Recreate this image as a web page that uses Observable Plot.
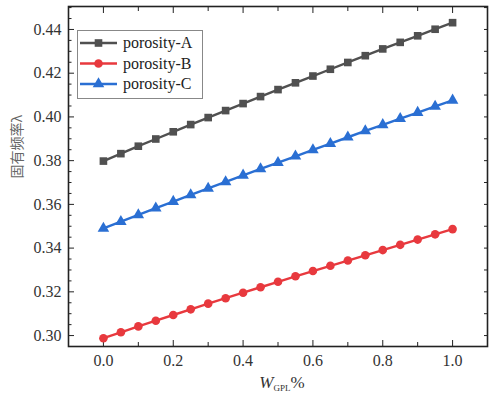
<!DOCTYPE html>
<html><head><meta charset="utf-8">
<script src="https://cdn.jsdelivr.net/npm/d3@7"></script>
<script src="https://cdn.jsdelivr.net/npm/@observablehq/plot@0.6"></script>
<style>body{margin:0;background:#fff}</style>
</head><body><div id="chart"></div>
<script>
const wgpl = [0,0.05,0.1,0.15,0.2,0.25,0.3,0.35,0.4,0.45,0.5,0.55,0.6,0.65,0.7,0.75,0.8,0.85,0.9,0.95,1.0];
const porosityA = [0.3798,0.3832,0.3866,0.3899,0.3932,0.3965,0.3997,0.4029,0.4061,0.4093,0.4125,0.4156,0.4187,0.4218,0.4249,0.4280,0.4311,0.4341,0.4371,0.4401,0.4431];
const porosityB = [0.2988,0.3015,0.3042,0.3068,0.3094,0.3120,0.3146,0.3171,0.3196,0.3221,0.3246,0.3271,0.3295,0.3319,0.3343,0.3367,0.3391,0.3415,0.3439,0.3463,0.3487];
const porosityC = [0.3490,0.3521,0.3552,0.3583,0.3613,0.3643,0.3673,0.3703,0.3733,0.3762,0.3791,0.3820,0.3849,0.3878,0.3907,0.3936,0.3964,0.3992,0.4020,0.4048,0.4076];
const seriesNames = ["porosity-A","porosity-B","porosity-C"];
const seriesColors = ["#505050","#e8393e","#2a6fd3"];
const seriesSymbols = ["square","circle","triangle"];
const xTicks = [0,0.2,0.4,0.6,0.8,1.0];
const xMinor = [-0.1,0.1,0.3,0.5,0.7,0.9,1.1];
const yTicks = [0.30,0.32,0.34,0.36,0.38,0.40,0.42,0.44];
const yMinor = [0.295,0.305,0.31,0.315,0.325,0.33,0.335,0.345,0.35,0.355,0.365,0.37,0.375,0.385,0.39,0.395,0.405,0.41,0.415,0.425,0.43,0.435,0.445,0.45];
const yRight = [0.30,0.31,0.32,0.33,0.34,0.35,0.36,0.37,0.38,0.39,0.40,0.41,0.42,0.43,0.44,0.45];
const yLabel = "固有频率λ";

const SERIF = "Liberation Serif";
const allSeries = [porosityA, porosityB, porosityC];
const data = [];
allSeries.forEach((vals, s) => vals.forEach((v, i) => data.push({x: wgpl[i], y: v, s: seriesNames[s]})));

const blank = () => "";
const chart = Plot.plot({
  width: 502, height: 396,
  marginLeft: 68, marginRight: 15, marginTop: 6, marginBottom: 50,
  x: {domain: [-0.1, 1.1]},
  y: {domain: [0.295, 0.4505]},
  color: {domain: seriesNames, range: seriesColors},
  symbol: {domain: seriesNames, range: seriesSymbols},
  style: {fontFamily: SERIF, fontSize: "16px", color: "#333", background: "#fff"},
  marks: [
    Plot.axisX({ticks: xTicks, tickSize: -6, tickPadding: 14, tickFormat: d => d.toFixed(1), label: null, stroke: "#222", fontFamily: SERIF}),
    Plot.axisX({ticks: xMinor, tickSize: -4, tickFormat: blank, label: null, stroke: "#222"}),
    Plot.axisX({anchor: "top", ticks: xTicks, tickSize: -6, tickFormat: blank, label: null, stroke: "#222"}),
    Plot.axisX({anchor: "top", ticks: xMinor, tickSize: -4, tickFormat: blank, label: null, stroke: "#222"}),
    Plot.axisY({ticks: yTicks, tickSize: -6, tickPadding: 13, tickFormat: d => d.toFixed(2), label: null, stroke: "#222", fontFamily: SERIF}),
    Plot.axisY({ticks: yMinor, tickSize: -3.5, tickFormat: blank, label: null, stroke: "#222"}),
    Plot.axisY({anchor: "right", ticks: yRight, tickSize: -4, tickFormat: blank, label: null, stroke: "#222"}),
    Plot.frame({stroke: "#222", strokeWidth: 1.6}),
    Plot.line(data, {x: "x", y: "y", z: "s", stroke: "s", strokeWidth: 2.4}),
    Plot.dot(data, {x: "x", y: "y", symbol: "s", fill: "s", r: 4.3}),
    Plot.text([yLabel], {frameAnchor: "left", text: d => d, rotate: -90, dx: -51, dy: 2,
      fontFamily: "Noto Sans CJK SC", fontSize: 14, fill: "#666"})
  ]
});
document.getElementById("chart").append(chart);

const svg = d3.select(chart);
const xt = svg.append("text").attr("x", 282).attr("y", 388).attr("text-anchor", "middle")
  .style("font-family", SERIF).attr("fill", "#333");
xt.append("tspan").attr("font-style", "italic").attr("font-size", 17).text("W");
xt.append("tspan").attr("font-size", 9).attr("dy", 3).text("GPL");
xt.append("tspan").attr("font-size", 17).attr("dy", -3).text("%");

const lg = svg.append("g");
lg.append("rect").attr("x", 77.5).attr("y", 30.5).attr("width", 125).attr("height", 68)
  .attr("fill", "#fff").attr("stroke", "#888").attr("stroke-width", 1);
const symGen = d3.symbol().size(58);
const d3Sym = {square: d3.symbolSquare, circle: d3.symbolCircle, triangle: d3.symbolTriangle};
seriesNames.forEach((name, i) => {
  const cy = 43 + i * 20.5;
  lg.append("line").attr("x1", 80).attr("x2", 117).attr("y1", cy).attr("y2", cy)
    .attr("stroke", seriesColors[i]).attr("stroke-width", 2.4);
  lg.append("path").attr("d", symGen.type(d3Sym[seriesSymbols[i]])()).attr("transform", `translate(98.5,${cy})`)
    .attr("fill", seriesColors[i]);
  lg.append("text").attr("x", 123).attr("y", cy + 5).attr("text-anchor", "start")
    .style("font-family", SERIF).attr("font-size", 16).attr("fill", "#222").text(name);
});
</script>
</body></html>
